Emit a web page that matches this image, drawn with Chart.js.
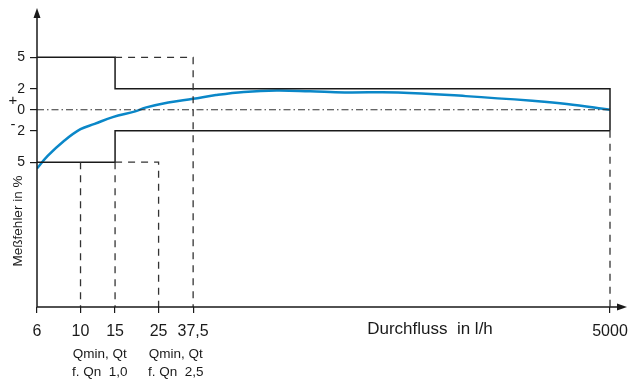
<!DOCTYPE html>
<html>
<head>
<meta charset="utf-8">
<script src="https://cdn.jsdelivr.net/npm/chart.js@4.4.1/dist/chart.umd.min.js"></script>
<style>
  body { margin: 0; background: #fff; }
</style>
</head>
<body>
<canvas id="chart" width="633" height="382"></canvas>
<script>
// x axis: Durchfluss in l/h (log), y axis: Meßfehler in %
const flowTicks = [6, 10, 15, 25, 37.5, 5000];
const flowTickLabels = ['6', '10', '15', '25', '37,5', '5000'];
const errorTicks = [5, 2, 0, -2, -5];
const errorTickLabels = ['5', '2', '0', '2', '5'];

// measured error curve
const curveFlow = [6, 6.8, 8.2, 10, 11.8, 14.6, 19, 21.4, 28, 37.5, 49, 68, 100, 148, 222, 416, 920, 2010, 3010, 5000];
const curveError = [-5.6, -4.4, -3.0, -1.85, -1.35, -0.7, -0.15, 0.2, 0.7, 1.05, 1.4, 1.7, 1.84, 1.76, 1.65, 1.65, 1.3, 0.85, 0.55, 0];

// error limits
const upperLimitFlow = [6, 15, 15, 5000, 5000];
const upperLimitError = [5, 5, 2, 2, -2];
const lowerLimitFlow = [6, 15, 15, 5000];
const lowerLimitError = [-5, -5, -2, -2];

const Y_MIN = -18.8;
const Y_MAX = 9.7;

// dashed guide lines (null = break)
const guideFlow = [15, 37.5, 37.5, 37.5, 15, 25, 25, 25, 10, 10, 10, 15, 15, 15, 5000, 5000];
const guideError = [5, 5, Y_MIN, null, -5, -5, Y_MIN, null, -5, Y_MIN, null, -5, Y_MIN, null, -2, Y_MIN];

const zeroFlow = [6, 5000];
const zeroError = [0, 0];

const pts = (xs, ys) => xs.map((x, i) => ({ x: x, y: ys[i] }));

Chart.defaults.font.family = '"Liberation Sans", Arial, sans-serif';
Chart.defaults.color = '#1a1a1a';

const INK = '#1a1a1a';
const FONT = '"Liberation Sans", Arial, sans-serif';

const decor = {
  id: 'decor',
  afterDraw(chart) {
    const { ctx, chartArea: a, scales: { x, y } } = chart;
    ctx.save();
    ctx.strokeStyle = INK;
    ctx.fillStyle = INK;
    ctx.lineWidth = 1.5;

    // axes with arrows
    ctx.beginPath();
    ctx.moveTo(a.left, a.bottom);
    ctx.lineTo(a.left, a.top + 6);
    ctx.moveTo(a.left, a.bottom);
    ctx.lineTo(a.right - 6, a.bottom);
    ctx.stroke();
    ctx.beginPath();
    ctx.moveTo(a.left, a.top);
    ctx.lineTo(a.left - 3.5, a.top + 10);
    ctx.lineTo(a.left + 3.5, a.top + 10);
    ctx.closePath();
    ctx.fill();
    ctx.beginPath();
    ctx.moveTo(a.right, a.bottom);
    ctx.lineTo(a.right - 10, a.bottom - 3.5);
    ctx.lineTo(a.right - 10, a.bottom + 3.5);
    ctx.closePath();
    ctx.fill();

    // + / - signs
    ctx.font = '15px ' + FONT;
    ctx.textAlign = 'center';
    ctx.textBaseline = 'middle';
    ctx.fillText('+', 13, y.getPixelForValue(0.85));
    ctx.fillText('-', 13, y.getPixelForValue(-1.4));

    // y title
    ctx.save();
    ctx.font = '13.5px ' + FONT;
    ctx.translate(18, 221);
    ctx.rotate(-Math.PI / 2);
    ctx.fillText('Meßfehler in %', 0, 0);
    ctx.restore();

    // x title
    ctx.font = '17px ' + FONT;
    ctx.fillText('Durchfluss  in l/h', 430, 329);

    // Qmin labels
    ctx.font = '13.5px ' + FONT;
    const c1 = (x.getPixelForValue(10) + x.getPixelForValue(15)) / 2 + 2;
    const c2 = (x.getPixelForValue(25) + x.getPixelForValue(37.5)) / 2;
    ctx.fillText('Qmin, Qt', c1, 354);
    ctx.fillText('f. Qn  1,0', c1, 372);
    ctx.fillText('Qmin, Qt', c2, 354);
    ctx.fillText('f. Qn  2,5', c2, 372);
    ctx.restore();
  }
};

new Chart(document.getElementById('chart'), {
  type: 'scatter',
  data: {
    datasets: [
      {
        data: pts(zeroFlow, zeroError),
        showLine: true, borderColor: '#333', borderWidth: 1.2,
        borderDash: [7, 3, 1.5, 3], pointRadius: 0
      },
      {
        data: pts(guideFlow, guideError),
        showLine: true, spanGaps: false, borderColor: '#333', borderWidth: 1.3,
        borderDash: [7, 6], pointRadius: 0
      },
      {
        data: pts(upperLimitFlow, upperLimitError),
        showLine: true, borderColor: INK, borderWidth: 1.5, pointRadius: 0
      },
      {
        data: pts(lowerLimitFlow, lowerLimitError),
        showLine: true, borderColor: INK, borderWidth: 1.5, pointRadius: 0
      },
      {
        data: pts(curveFlow, curveError),
        showLine: true, borderColor: '#0a87c8', borderWidth: 2.5,
        tension: 0.4, pointRadius: 0
      }
    ]
  },
  options: {
    responsive: false,
    animation: false,
    layout: { padding: { top: 8, right: 6, left: 0, bottom: 0 } },
    plugins: { legend: { display: false }, tooltip: { enabled: false } },
    scales: {
      x: {
        type: 'logarithmic',
        min: 6,
        max: 6104,
        afterBuildTicks: (s) => { s.ticks = flowTicks.map(v => ({ value: v })); },
        afterFit: (s) => { s.height = 75; s.paddingLeft = 0; s.paddingRight = 0; },
        border: { display: false },
        grid: { drawOnChartArea: false, tickLength: 6, color: INK, lineWidth: 1.2 },
        ticks: {
          autoSkip: false, maxRotation: 0, padding: 9,
          font: { size: 16 },
          callback: (v) => flowTickLabels[flowTicks.indexOf(v)]
        }
      },
      y: {
        min: Y_MIN,
        max: Y_MAX,
        afterBuildTicks: (s) => { s.ticks = errorTicks.map(v => ({ value: v })); },
        afterFit: (s) => { s.width = 37; s.paddingTop = 0; s.paddingBottom = 0; },
        border: { display: false },
        grid: { drawOnChartArea: false, tickLength: 7, color: INK, lineWidth: 1.2 },
        ticks: {
          padding: 5,
          font: { size: 14 },
          callback: (v) => errorTickLabels[errorTicks.indexOf(v)]
        }
      }
    }
  },
  plugins: [decor]
});
</script>
</body>
</html>
